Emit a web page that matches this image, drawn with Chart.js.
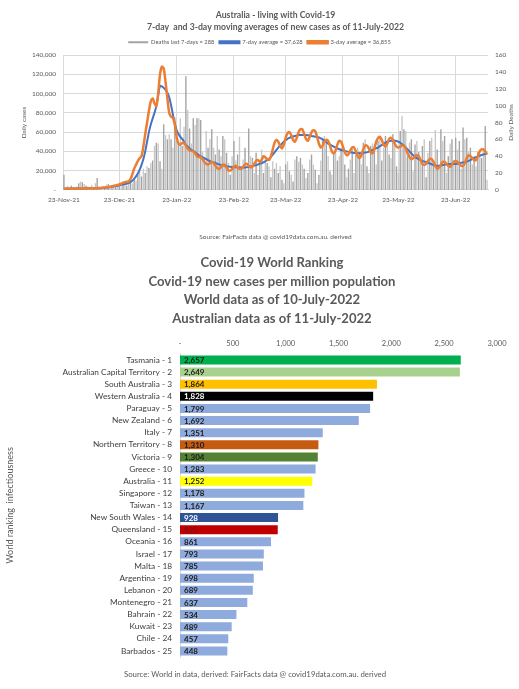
<!DOCTYPE html>
<html>
<head>
<meta charset="utf-8">
<script src="https://cdn.jsdelivr.net/npm/chart.js@4.4.1/dist/chart.umd.min.js"></script>
<style>
  html, body { margin: 0; padding: 0; background: #fff; }
  #topBox { position: absolute; left: 0; top: 0; width: 519px; height: 245px; }
  #bottomBox { position: absolute; left: 0; top: 245px; width: 519px; height: 444px; }
</style>
</head>
<body>
<div id="topBox"><canvas id="casesChart"></canvas></div>
<div id="bottomBox"><canvas id="rankChart"></canvas></div>
<script>
// ---- top chart: daily series from 23-Nov-21 ----
const firstDay = [2021, 10, 23];

const dailyDeaths = [
  18,3,4,2,5,3,1,4,8,10,9,7,5,4,3,6,2,8,14,4,2,5,3,6,7,5,3,6,4,5,
  8,4,6,9,5,12,10,8,14,11,18,22,16,25,
  20,28,26,32,35,52,56,55,34,25,78,65,60,66,
  60,50,86,58,55,85,52,75,135,95,73,55,85,77,
  85,85,83,45,38,70,50,60,72,50,42,64,48,40,
  64,60,44,32,18,40,58,35,42,63,28,36,50,24,
  73,40,38,20,44,18,30,48,20,40,32,28,15,34,
  25,32,20,28,12,8,30,34,22,18,10,36,40,33,
  38,30,25,14,20,36,42,30,24,8,18,35,62,64,
  55,40,22,18,45,48,35,40,50,46,30,15,25,36,
  48,20,42,50,45,30,56,60,28,20,52,55,48,30,
  58,62,35,50,64,55,42,38,66,60,28,20,70,88,
  72,70,40,56,60,22,54,58,45,35,52,60,15,44,
  58,62,30,71,48,25,72,58,64,20,40,55,60,35,
  62,48,58,25,74,60,62,45,50,30,40,28,45,42,
  38,47,76,12
];

const avg7Day = [
  1200,1200,1300,1300,1300,1400,1400,1400,1400,1500,1500,1500,1500,1600,1600,1600,1700,1700,1800,1800,1900,2000,2200,2400,2600,2900,3200,3600,
  3900,4300,4800,5200,5600,6000,6400,7000,8000,9500,11500,14000,
  17000,21000,26000,32000,40000,50000,60000,68000,74000,80000,87000,98000,108000,
  107500,106000,104000,101000,96000,88000,78000,69000,62000,
  58000,55000,53000,50000,47000,45000,43000,41500,40500,39000,37500,36000,35000,34000,
  33000,32000,31000,30000,29000,28500,28000,27000,26500,26000,25500,25000,24500,24300,24000,
  23800,23600,23500,23400,23300,23300,23300,23300,23400,
  23800,24200,24700,25200,25700,26300,27000,27800,28700,29700,30800,
  32000,34000,36500,39000,41500,44000,46000,48000,50000,51500,
  53000,54000,55000,55500,56000,56500,57000,57000,57000,57000,
  57000,56800,56500,56000,55700,55300,55000,54500,53500,52500,
  51000,49500,48000,47000,46000,45000,44000,43000,42200,41500,
  41000,40500,40000,39500,39000,38700,38400,38200,38000,38000,
  38200,38500,38800,39000,39800,40600,41500,42500,43300,44000,
  45300,46500,47800,49000,50000,50500,51000,51000,51000,50800,
  50000,49000,47500,46000,44000,42000,40000,38000,36000,34500,
  33000,32000,31000,30000,29500,29000,28200,27400,26600,25800,
  25200,25000,25200,25500,25800,26200,26500,26700,26800,26900,
  27000,27000,27300,27700,28100,28500,29000,29500,30200,31000,
  32000,33000,34000,34800,35500,36200,36800,37300,37628
];

const avg3Day = [
  1000,1200,1300,1200,1100,1300,1400,1300,1300,1500,1600,1400,1400,1600,1700,1600,1600,1800,1900,1800,2000,2200,2400,2600,
  2900,3300,3800,4200,4600,5000,5600,6600,7400,8000,8400,8700,
  11000,16000,22000,26000,30000,33000,35000,45000,58000,70000,82000,92000,95000,90000,87000,100000,120000,
  128000,126000,112000,95000,80000,76000,75000,68000,55000,48000,
  47000,48500,49000,46000,43000,41000,40500,40000,38000,35000,
  34000,34500,32000,29000,27000,26500,27500,29000,28000,25000,
  22500,22000,23500,26000,26000,23000,20500,20000,21500,24000,
  25000,23000,22000,22000,24000,26500,27000,25000,23500,24000,
  27000,30000,31000,29000,
  31000,35000,34000,32000,31000,35000,42000,49000,52000,50000,
  46000,43000,47000,54000,59000,60000,57000,52000,50000,54000,
  60000,63000,63000,58000,53000,51000,55000,60000,62000,61000,
  55000,48000,44000,46000,50000,52000,51000,46000,40000,38000,
  41000,47000,51000,50000,45000,39000,36000,37000,41000,44000,
  44000,40000,35000,33000,36000,42000,46000,46000,43000,39000,
  38000,43000,50000,54000,55000,52000,47000,45000,48000,53000,
  54000,52000,48000,45000,44000,45000,46000,46000,43000,38000,
  34000,32000,33000,35000,36000,35000,31000,27000,26000,27000,
  30000,32000,32000,29000,25000,22000,23000,26000,29000,29000,
  27000,25000,24000,26000,29000,30000,29000,27000,25000,25000,
  28000,33000,36000,35000,33000,31000,31000,35000,40000,42000,
  42000,40000,36855
];

// ---- bottom chart: ranking ----
const rankNames = [
  'Tasmania - 1', 'Australian Capital Territory - 2', 'South Australia - 3', 'Western Australia - 4',
  'Paraguay - 5', 'New Zealand - 6', 'Italy - 7', 'Northern Territory - 8', 'Victoria - 9',
  'Greece - 10', 'Australia - 11', 'Singapore - 12', 'Taiwan - 13', 'New South Wales - 14',
  'Queensland - 15', 'Oceania - 16', 'Israel - 17', 'Malta - 18', 'Argentina - 19',
  'Lebanon - 20', 'Montenegro - 21', 'Bahrain - 22', 'Kuwait - 23', 'Chile - 24', 'Barbados - 25'
];
const casesPerMillion = [
  2657, 2649, 1864, 1828, 1799, 1692, 1351, 1310, 1304, 1283, 1252, 1178, 1167,
  928, 925, 861, 793, 785, 698, 689, 637, 534, 489, 457, 448
];

// styles
const worldBlue = '#8faadc';
const rankColors = {
  'Tasmania - 1': '#00b050',
  'Australian Capital Territory - 2': '#a9d18e',
  'South Australia - 3': '#ffc000',
  'Western Australia - 4': '#000000',
  'Northern Territory - 8': '#c55a11',
  'Victoria - 9': '#548235',
  'Australia - 11': '#ffff00',
  'New South Wales - 14': '#2f5597',
  'Queensland - 15': '#c00000'
};
const rankTextColors = {
  'Western Australia - 4': '#ffffff',
  'New South Wales - 14': '#ffffff',
  'Queensland - 15': '#7a1010'
};
const fontStack = 'Lato, "Open Sans", sans-serif';

const monthNames = ['Jan','Feb','Mar','Apr','May','Jun','Jul','Aug','Sep','Oct','Nov','Dec'];
const dayLabels = dailyDeaths.map(function(_, i) {
  const d = new Date(Date.UTC(firstDay[0], firstDay[1], firstDay[2] + i));
  return d.getUTCDate() + '-' + monthNames[d.getUTCMonth()] + '-' + String(d.getUTCFullYear()).slice(2);
});
const fmt = function(v) { return v.toLocaleString('en-US'); };
const last7Deaths = dailyDeaths.slice(-7).reduce(function(a, b) { return a + b; }, 0);

Chart.defaults.font.family = fontStack;
Chart.defaults.color = '#595959';

// right axis title reads bottom-to-top like the original
const deathsAxisTitle = {
  id: 'deathsAxisTitle',
  afterDraw: function(chart) {
    const ctx = chart.ctx;
    const area = chart.chartArea;
    ctx.save();
    ctx.fillStyle = '#595959';
    ctx.font = '6.5px ' + fontStack;
    ctx.textAlign = 'center';
    ctx.textBaseline = 'middle';
    ctx.translate(area.right + 23, (area.top + area.bottom) / 2);
    ctx.rotate(-Math.PI / 2);
    ctx.fillText('Daily Deaths', 0, 0);
    ctx.restore();
  }
};

new Chart(document.getElementById('casesChart'), {
  type: 'bar',
  data: {
    labels: dayLabels,
    datasets: [
      {
        type: 'bar',
        label: 'Deaths last 7-days = ' + last7Deaths,
        data: dailyDeaths,
        yAxisID: 'y1',
        backgroundColor: function(ctx) { return ctx.dataIndex % 2 ? '#c8c8c8' : '#a3a3a3'; },
        barPercentage: 0.75,
        categoryPercentage: 1,
        order: 3
      },
      {
        type: 'line',
        label: '7-day average = ' + fmt(avg7Day[avg7Day.length - 1]),
        data: avg7Day,
        yAxisID: 'y',
        borderColor: '#4472c4',
        backgroundColor: '#4472c4',
        borderWidth: 2,
        pointRadius: 0,
        tension: 0.3,
        order: 2
      },
      {
        type: 'line',
        label: '3-day average = ' + fmt(avg3Day[avg3Day.length - 1]),
        data: avg3Day,
        yAxisID: 'y',
        borderColor: '#ed7d31',
        backgroundColor: '#ed7d31',
        borderWidth: 2.5,
        pointRadius: 0,
        tension: 0.3,
        order: 1
      }
    ]
  },
  plugins: [deathsAxisTitle],
  options: {
    responsive: true,
    maintainAspectRatio: false,
    animation: false,
    layout: { padding: 0 },
    plugins: {
      title: {
        display: true,
        fullSize: false,
        text: ['Australia - living with Covid-19', '7-day  and 3-day moving averages of new cases as of 11-July-2022'],
        color: '#595959',
        font: { size: 8.7, weight: 'bold', lineHeight: 1.4 },
        padding: { top: 9, bottom: 1 }
      },
      subtitle: {
        display: true,
        position: 'bottom',
        fullSize: false,
        text: 'Source: FairFacts data @ covid19data.com.au. derived',
        color: '#595959',
        font: { size: 6.5, lineHeight: 1.25 },
        padding: { top: 3, bottom: 4 }
      },
      legend: {
        display: true,
        position: 'top',
        labels: {
          color: '#595959',
          font: { size: 5.8 },
          boxWidth: 20,
          boxHeight: 2,
          padding: 5,
          sort: function(a, b) { return a.datasetIndex - b.datasetIndex; }
        }
      },
      tooltip: { enabled: false }
    },
    scales: {
      x: {
        offset: true,
        grid: { color: '#d9d9d9', offset: false, drawTicks: false },
        border: { color: '#d9d9d9' },
        ticks: {
          autoSkip: false,
          maxRotation: 0,
          padding: 6,
          font: { size: 6.5 },
          callback: function(v) {
            const l = this.getLabelForValue(v);
            return l.indexOf('23-') === 0 ? l : null;
          }
        },
        afterFit: function(s) { s.height = 40; }
      },
      y: {
        position: 'left',
        min: 0,
        max: 140000,
        grid: { color: '#d9d9d9', drawTicks: false },
        border: { display: false },
        ticks: {
          stepSize: 20000,
          padding: 7,
          font: { size: 6.5 },
          callback: function(v) { return v === 0 ? '-' : fmt(v); }
        },
        title: { display: true, text: 'Daily cases', font: { size: 6.5 }, padding: { top: 20, bottom: 2 } },
        afterFit: function(s) { s.width = 63; }
      },
      y1: {
        position: 'right',
        min: 0,
        max: 160,
        grid: { display: false, drawTicks: false },
        border: { display: false },
        ticks: { stepSize: 20, padding: 7, font: { size: 6.5 } },
        afterFit: function(s) { s.width = 31; }
      }
    }
  }
});

// value labels at the start of each ranking bar, plus axis title and source line
const rankExtras = {
  id: 'rankExtras',
  afterDatasetsDraw: function(chart) {
    const ctx = chart.ctx;
    const area = chart.chartArea;
    const meta = chart.getDatasetMeta(0);
    ctx.save();
    ctx.font = 'bold 8px ' + fontStack;
    ctx.textBaseline = 'middle';
    ctx.textAlign = 'left';
    meta.data.forEach(function(bar, i) {
      const name = chart.data.labels[i];
      ctx.fillStyle = rankTextColors[name] || '#1a1a1a';
      ctx.fillText(fmt(chart.data.datasets[0].data[i]), bar.base + 4, bar.y + 0.5);
    });

    ctx.fillStyle = '#595959';
    ctx.font = '9px ' + fontStack;
    ctx.textAlign = 'center';
    ctx.save();
    ctx.translate(10, (area.top + area.bottom) / 2);
    ctx.rotate(-Math.PI / 2);
    ctx.fillText('World ranking  infectiousness', 0, 0);
    ctx.restore();

    ctx.font = '7.8px ' + fontStack;
    ctx.fillText('Source: World in data, derived: FairFacts data @ covid19data.com.au. derived', 255, area.bottom + 17);
    ctx.restore();
  }
};

new Chart(document.getElementById('rankChart'), {
  type: 'bar',
  data: {
    labels: rankNames,
    datasets: [{
      data: casesPerMillion,
      backgroundColor: rankNames.map(function(n) { return rankColors[n] || worldBlue; }),
      barPercentage: 0.74,
      categoryPercentage: 1
    }]
  },
  plugins: [rankExtras],
  options: {
    indexAxis: 'y',
    responsive: true,
    maintainAspectRatio: false,
    animation: false,
    layout: { padding: { left: 47, right: 22, bottom: 32 } },
    plugins: {
      legend: { display: false },
      tooltip: { enabled: false },
      title: {
        display: true,
        text: ['Covid-19 World Ranking', 'Covid-19 new cases per million population', 'World data as of 10-July-2022', 'Australian data as of 11-July-2022'],
        color: '#595959',
        font: { size: 13.1, weight: 'bold', lineHeight: 1.41 },
        padding: { top: 9, bottom: 0 }
      }
    },
    scales: {
      x: {
        position: 'top',
        min: 0,
        max: 3000,
        grid: { display: false, drawTicks: false },
        border: { display: false },
        ticks: {
          stepSize: 500,
          padding: 6,
          font: { size: 7.5 },
          callback: function(v) { return v === 0 ? '-' : fmt(v); }
        },
        afterFit: function(s) { s.height = 26; }
      },
      y: {
        grid: { display: false, drawTicks: false },
        border: { color: '#d9d9d9' },
        ticks: { autoSkip: false, color: '#404040', padding: 8, font: { size: 8.3 } },
        afterFit: function(s) { s.width = 133; }
      }
    }
  }
});
</script>
</body>
</html>
